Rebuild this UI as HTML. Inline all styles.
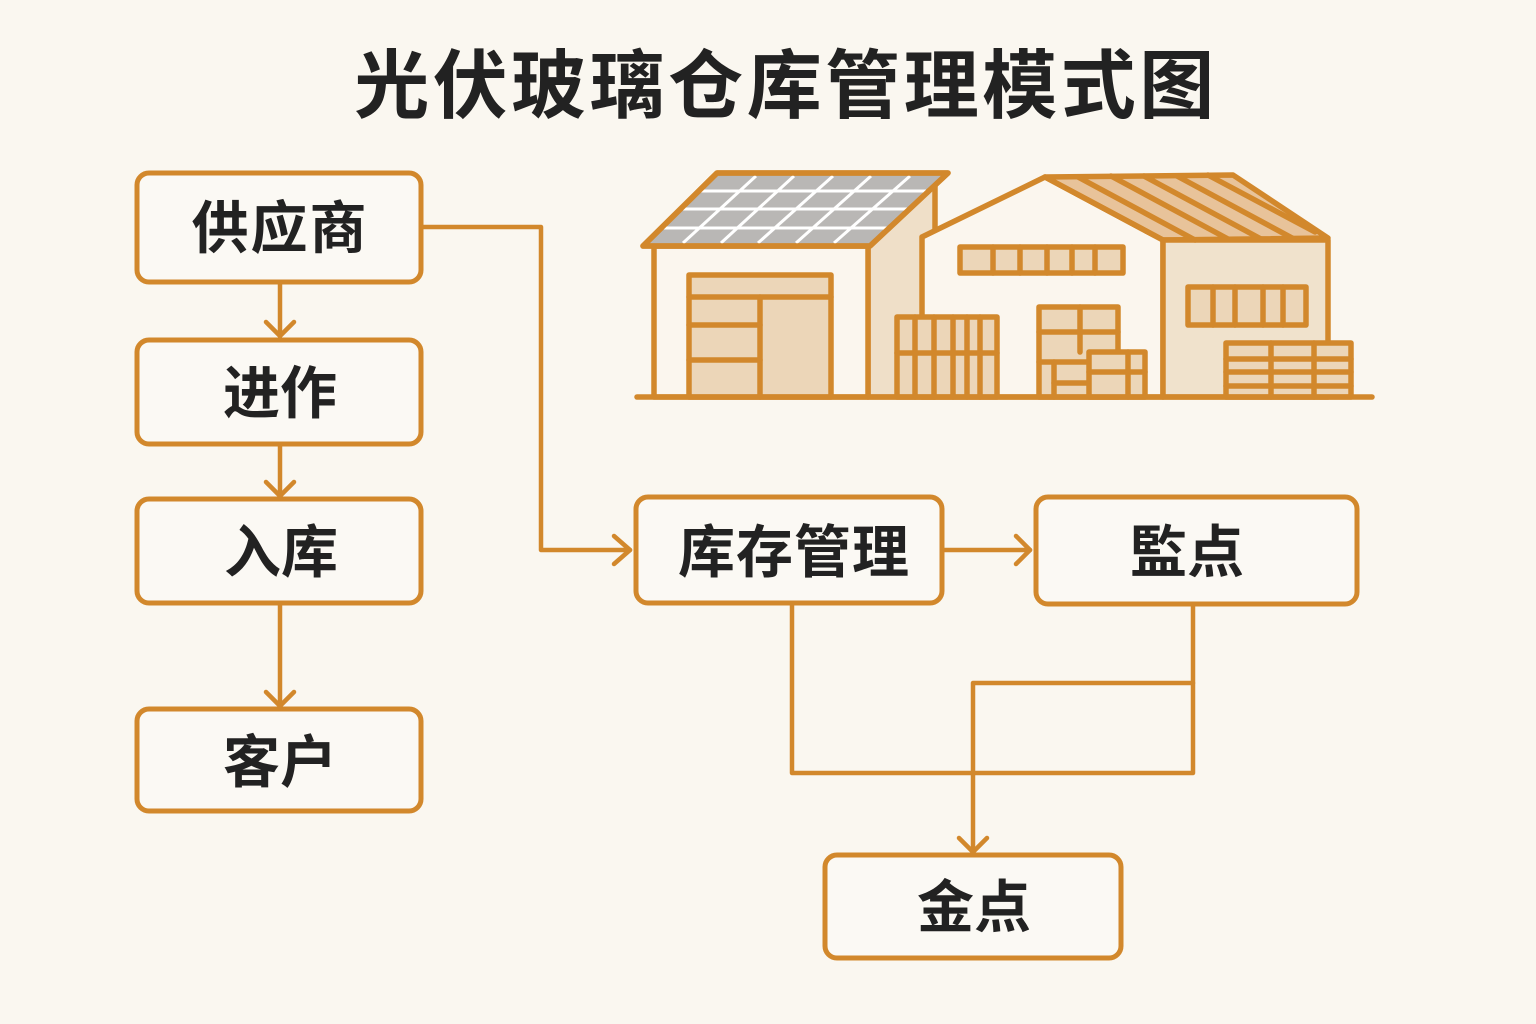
<!DOCTYPE html>
<html><head><meta charset="utf-8"><style>
html,body{margin:0;padding:0;background:#faf7f0;}
svg{display:block;}
text{font-family:"Liberation Sans","Noto Sans CJK SC",sans-serif;font-weight:700;fill:#222;}
</style></head><body>
<svg width="1536" height="1024" viewBox="0 0 1536 1024" xmlns="http://www.w3.org/2000/svg">
<rect width="1536" height="1024" fill="#faf7f0"/>
<text x="786" y="86" font-size="75" letter-spacing="3.5" text-anchor="middle" dominant-baseline="central">光伏玻璃仓库管理模式图</text>

<!-- warehouse -->
<g stroke="#d2882c" stroke-width="5.5" stroke-linejoin="round" stroke-linecap="round">
  <polygon points="868,246 935,184 935,397 868,397" fill="#efdfc8"/>
  <rect x="654" y="246" width="214" height="151" fill="#fbf6ee"/>
  <polygon points="922,237 1045,177 1163,240 1163,397 922,397" fill="#fbf6ee"/>
  <polygon points="1045,177 1233,175 1328,238 1163,240" fill="#e8c39a"/>
  <rect x="1163" y="240" width="165" height="157" fill="#f0e2cc"/>
  <polygon points="717,173 948,173 870,246 643,246" fill="#b9b7b5"/>
</g>
<g stroke="#fff" stroke-width="3">
  <line x1="700" y1="191" x2="926" y2="191"/>
  <line x1="682" y1="209" x2="908" y2="209"/>
  <line x1="663" y1="228" x2="889" y2="228"/>
  <line x1="756" y1="176" x2="683" y2="243"/>
  <line x1="794" y1="176" x2="721" y2="243"/>
  <line x1="833" y1="176" x2="758" y2="243"/>
  <line x1="871" y1="176" x2="796" y2="243"/>
  <line x1="910" y1="176" x2="834" y2="243"/>
</g>
<g stroke="#d2882c" stroke-width="5.5" stroke-linejoin="round" stroke-linecap="round" fill="none">
  <polygon points="717,173 948,173 870,246 643,246"/>
  <line x1="1078" y1="177" x2="1195" y2="240"/>
  <line x1="1111" y1="176" x2="1228" y2="239"/>
  <line x1="1144" y1="176" x2="1261" y2="239"/>
  <line x1="1177" y1="176" x2="1294" y2="239"/>
  <line x1="1208" y1="175" x2="1315" y2="232"/>
  <line x1="1045" y1="177" x2="1163" y2="240"/>
</g>
<g stroke="#d2882c" stroke-width="5.5" stroke-linejoin="round" stroke-linecap="round">
  <rect x="689" y="275" width="142" height="122" fill="#ecd6b8"/>
  <line x1="689" y1="297" x2="831" y2="297"/>
  <line x1="760" y1="297" x2="760" y2="397"/>
  <line x1="689" y1="325" x2="760" y2="325"/>
  <line x1="689" y1="360" x2="760" y2="360"/>
  <rect x="897" y="317" width="100" height="80" fill="#ecd6b8"/>
  <line x1="897" y1="353" x2="997" y2="353"/>
  <line x1="915" y1="317" x2="915" y2="397"/>
  <line x1="934" y1="317" x2="934" y2="397"/>
  <line x1="953" y1="317" x2="953" y2="397"/>
  <line x1="967" y1="317" x2="967" y2="397"/>
  <line x1="980" y1="317" x2="980" y2="397"/>
  <rect x="960" y="247" width="163" height="26" fill="#ecd6b8"/>
  <line x1="993" y1="247" x2="993" y2="273"/>
  <line x1="1020" y1="247" x2="1020" y2="273"/>
  <line x1="1047" y1="247" x2="1047" y2="273"/>
  <line x1="1072" y1="247" x2="1072" y2="273"/>
  <line x1="1095" y1="247" x2="1095" y2="273"/>
  <rect x="1039" y="307" width="79" height="90" fill="#ecd6b8"/>
  <line x1="1080" y1="307" x2="1080" y2="352"/>
  <line x1="1039" y1="332" x2="1118" y2="332"/>
  <line x1="1039" y1="362" x2="1089" y2="362"/>
  <line x1="1054" y1="362" x2="1054" y2="397"/>
  <line x1="1054" y1="383" x2="1089" y2="383"/>
  <rect x="1089" y="352" width="56" height="45" fill="#ecd6b8"/>
  <line x1="1128" y1="352" x2="1128" y2="397"/>
  <line x1="1089" y1="372" x2="1145" y2="372"/>
  <rect x="1188" y="287" width="118" height="38" fill="#ecd6b8"/>
  <line x1="1213" y1="287" x2="1213" y2="325"/>
  <line x1="1235" y1="287" x2="1235" y2="325"/>
  <line x1="1263" y1="287" x2="1263" y2="325"/>
  <line x1="1283" y1="287" x2="1283" y2="325"/>
  <rect x="1226" y="343" width="125" height="54" fill="#ecd6b8"/>
  <line x1="1271" y1="343" x2="1271" y2="397"/>
  <line x1="1314" y1="343" x2="1314" y2="397"/>
  <line x1="1226" y1="359" x2="1351" y2="359"/>
  <line x1="1226" y1="372" x2="1351" y2="372"/>
  <line x1="1226" y1="386" x2="1351" y2="386"/>
  <line x1="637" y1="397" x2="1372" y2="397"/>
</g>

<!-- connectors -->
<g stroke="#d2882c" stroke-width="4.5" fill="none" stroke-linejoin="round" stroke-linecap="round">
  <polyline points="421,227 541,227 541,550 630,550"/>
  <polyline points="614,536 630,550 614,564"/>
  <line x1="280" y1="282" x2="280" y2="336"/>
  <polyline points="266,322 280,336 294,322"/>
  <line x1="280" y1="444" x2="280" y2="496"/>
  <polyline points="266,482 280,496 294,482"/>
  <line x1="280" y1="603" x2="280" y2="706"/>
  <polyline points="266,692 280,706 294,692"/>
  <line x1="942" y1="550" x2="1030" y2="550"/>
  <polyline points="1016,536 1030,550 1016,564"/>
  <polyline points="792,603 792,773 1193,773 1193,604"/>
  <polyline points="1193,683 973,683 973,852"/>
  <polyline points="959,838 973,852 987,838"/>
</g>

<!-- boxes -->
<g stroke="#d2882c" stroke-width="5" fill="#fbf9f4">
  <rect x="137" y="173" width="284" height="109" rx="12"/>
  <rect x="137" y="340" width="284" height="104" rx="12"/>
  <rect x="137" y="499" width="284" height="104" rx="12"/>
  <rect x="137" y="709" width="284" height="102" rx="12"/>
  <rect x="636" y="497" width="306" height="106" rx="12"/>
  <rect x="1036" y="497" width="321" height="107" rx="12"/>
  <rect x="825" y="855" width="296" height="103" rx="12"/>
</g>
<g font-size="57" text-anchor="middle" dominant-baseline="central">
  <text x="280" y="229" letter-spacing="2">供应商</text>
  <text x="280" y="394">进作</text>
  <text x="281" y="553">入库</text>
  <text x="280" y="763">客户</text>
  <text x="794" y="553" letter-spacing="1">库存管理</text>
  <text x="1187" y="553">監点</text>
  <text x="974" y="908">金点</text>
</g>
</svg>
</body></html>
